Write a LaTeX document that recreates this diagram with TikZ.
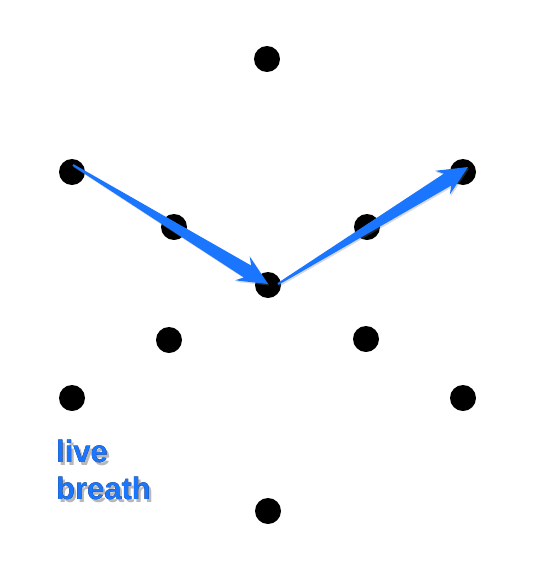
\documentclass[tikz,border=0pt]{standalone}
\usepackage{fontspec}
\usepackage{pdfrender}
\setmainfont{Liberation Sans}
\usetikzlibrary{calc,shadows}

\definecolor{pathblue}{RGB}{27,118,255}

\tikzset{
  dot/.style={circle, fill=black, inner sep=0pt, minimum size=26pt},
  pathfill/.style={fill=pathblue, drop shadow={shadow xshift=1.2pt, shadow yshift=-1.5pt, opacity=0.3}},
  wordstyle/.style={anchor=north west, inner sep=0pt, align=left, font=\fontsize{31}{37}\selectfont\bfseries},
}

% tapered arrow: #1 tail, #2 tip
\newcommand{\taperarrow}[2]{%
  \coordinate (hb) at ($(#2)!24pt!(#1)$);
  \coordinate (hw) at ($(#2)!30pt!(#1)$);
  \fill[pathfill] ($(#1)!1pt!90:(#2)$) -- ($(hb)!7pt!90:(#2)$) -- ($(hw)!14pt!90:(#2)$) -- (#2)
    -- ($(hw)!14pt!-90:(#2)$) -- ($(hb)!7pt!-90:(#2)$) -- ($(#1)!1pt!-90:(#2)$) -- cycle;
}
% outlined copy of a text
\newcommand{\fatword}[3]{\textpdfrender{TextRenderingMode=FillStroke, LineWidth=#2, StrokeColor=#1, FillColor=#1}{#3}}

\begin{document}
\begin{tikzpicture}[x=1pt,y=-1pt]
\useasboundingbox (0,0) rectangle (538,563);

% Dots
\node[dot] (top) at (267,59) {};
\node[dot] (ul) at (72,172) {};
\node[dot] (ur) at (463,172) {};
\node[dot] (uml) at (174,227) {};
\node[dot] (umr) at (367,227) {};
\node[dot] (mid) at (268,285) {};
\node[dot] (lml) at (169,340) {};
\node[dot] (lmr) at (366,339) {};
\node[dot] (ll) at (72,398) {};
\node[dot] (lr) at (463,398) {};
\node[dot] (bot) at (268,511) {};

% Arrows
\coordinate (a1s) at ($(ul)+(1,-7)$);
\coordinate (a1t) at ($(mid)+(0,-1)$);
\coordinate (a2s) at ($(mid)+(10,-1)$);
\coordinate (a2t) at ($(ur)+(5,-5)$);
\taperarrow{a1s}{a1t}
\taperarrow{a2s}{a2t}

% Text
\coordinate (lbl) at (56,440);
\node[wordstyle, opacity=0.28] (lblshade) at ($(lbl)+(2.5,3)$) {\fatword{gray}{3pt}{live}\\\fatword{gray}{3pt}{breath}};
\node[wordstyle] (lblhalo) at (lbl) {\fatword{white}{4pt}{live}\\\fatword{white}{4pt}{breath}};
\node[wordstyle, text=pathblue] (lbltext) at (lbl) {live\\breath};

\end{tikzpicture}
\end{document}
